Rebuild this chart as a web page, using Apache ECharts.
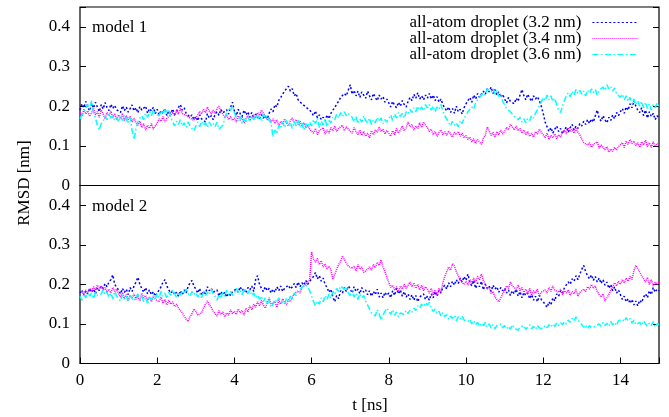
<!DOCTYPE html>
<html><head><meta charset="utf-8">
<script src="https://cdn.jsdelivr.net/npm/echarts/dist/echarts.min.js"></script>
<style>html,body{margin:0;padding:0;background:#fff}#c{width:669px;height:417px}</style>
</head><body><div id="c"></div>
<script>
// RMSD [nm] sampled every 0.05 ns from 0 to 15 ns (one row = 1 ns)
const m1_32 = [
.190,.206,.196,.212,.199,.188,.207,.195,.210,.198,.186,.204,.193,.209,.197,.189,.205,.194,.202,.191,
.196,.184,.201,.189,.198,.185,.194,.203,.188,.196,.183,.199,.190,.186,.200,.182,.194,.188,.197,.181,
.192,.178,.189,.182,.194,.176,.188,.181,.193,.179,.187,.197,.204,.190,.196,.182,.186,.172,.178,.166,
.174,.163,.178,.168,.172,.160,.181,.170,.176,.166,.179,.186,.177,.192,.183,.178,.191,.180,.196,.210,
.188,.176,.192,.181,.174,.190,.178,.186,.172,.184,.168,.180,.174,.166,.179,.170,.176,.168,.182,.193,
.186,.204,.198,.215,.222,.230,.238,.244,.250,.238,.244,.226,.232,.216,.220,.206,.210,.198,.202,.190,
.184,.176,.188,.171,.178,.166,.172,.163,.178,.168,.182,.190,.196,.206,.212,.222,.218,.232,.226,.240,
.254,.230,.240,.226,.238,.222,.236,.228,.220,.238,.226,.216,.232,.222,.214,.228,.218,.224,.210,.218,
.208,.198,.212,.202,.196,.210,.200,.214,.204,.198,.212,.222,.214,.230,.220,.234,.218,.226,.216,.228,
.220,.232,.218,.228,.214,.224,.210,.218,.204,.196,.188,.198,.184,.194,.182,.200,.186,.192,.180,.196,
.206,.214,.222,.210,.228,.218,.232,.222,.226,.238,.230,.244,.236,.248,.232,.242,.228,.236,.222,.230,
.218,.208,.222,.212,.216,.206,.220,.212,.228,.242,.226,.216,.230,.220,.212,.226,.218,.224,.214,.200,
.182,.160,.148,.136,.146,.132,.142,.150,.136,.144,.130,.140,.148,.134,.146,.154,.140,.150,.144,.156,
.150,.162,.154,.166,.156,.168,.160,.176,.190,.170,.162,.176,.166,.158,.172,.164,.178,.168,.184,.176,
.186,.194,.182,.198,.190,.206,.196,.214,.200,.190,.184,.196,.176,.190,.170,.186,.174,.182,.166,.176,
.170];
const m1_34 = [
.185,.176,.192,.180,.188,.174,.184,.194,.178,.186,.172,.190,.180,.168,.184,.176,.188,.170,.182,.166,
.178,.168,.182,.164,.176,.166,.174,.160,.170,.158,.152,.162,.146,.156,.140,.152,.144,.156,.142,.150,
.158,.168,.162,.174,.160,.170,.166,.178,.184,.176,.190,.180,.194,.182,.186,.176,.180,.170,.174,.164,
.170,.178,.186,.180,.192,.184,.198,.188,.180,.190,.182,.194,.200,.188,.180,.172,.178,.166,.174,.164,
.170,.160,.176,.164,.172,.158,.168,.176,.164,.172,.178,.170,.184,.176,.190,.182,.176,.166,.172,.160,
.168,.156,.166,.150,.162,.154,.168,.158,.150,.164,.170,.158,.166,.154,.162,.150,.158,.146,.154,.142,
.140,.132,.144,.128,.138,.134,.146,.130,.140,.132,.146,.138,.150,.136,.144,.140,.152,.138,.148,.142,
.140,.132,.146,.136,.128,.140,.126,.136,.124,.132,.120,.138,.128,.140,.134,.148,.136,.142,.130,.138,
.132,.124,.138,.128,.144,.132,.140,.150,.138,.146,.160,.148,.154,.140,.150,.144,.158,.146,.160,.152,
.146,.136,.142,.128,.136,.124,.134,.140,.128,.136,.126,.138,.130,.122,.134,.128,.136,.124,.132,.120,
.126,.116,.122,.110,.118,.106,.116,.112,.104,.120,.126,.148,.138,.126,.134,.122,.136,.128,.140,.130,
.136,.146,.140,.154,.148,.140,.150,.138,.144,.132,.140,.128,.136,.124,.132,.122,.136,.130,.142,.134,
.128,.120,.132,.116,.126,.120,.130,.118,.128,.122,.134,.140,.130,.146,.136,.142,.132,.144,.134,.128,
.116,.108,.112,.102,.108,.096,.104,.100,.110,.094,.102,.096,.090,.098,.084,.092,.086,.096,.090,.098,
.100,.108,.096,.112,.104,.116,.106,.112,.100,.108,.096,.110,.102,.114,.098,.108,.096,.110,.100,.106,
.104];
const m1_36 = [
.168,.178,.184,.196,.204,.192,.214,.186,.170,.152,.140,.156,.162,.174,.166,.180,.170,.176,.164,.172,
.160,.174,.164,.178,.168,.156,.172,.138,.116,.142,.160,.170,.176,.166,.182,.172,.186,.176,.190,.180,
.184,.176,.188,.180,.190,.182,.192,.172,.160,.150,.162,.154,.166,.150,.158,.146,.160,.150,.144,.138,
.150,.160,.148,.162,.152,.158,.146,.160,.150,.156,.148,.160,.142,.138,.152,.168,.184,.196,.190,.200,
.184,.170,.162,.174,.156,.168,.158,.172,.162,.176,.166,.178,.168,.174,.162,.180,.170,.176,.164,.158,
.122,.140,.130,.152,.144,.160,.146,.164,.150,.158,.144,.162,.150,.166,.146,.158,.140,.156,.146,.160,
.150,.166,.156,.170,.146,.162,.152,.168,.148,.164,.158,.172,.166,.180,.170,.184,.174,.186,.176,.182,
.186,.172,.160,.174,.156,.168,.160,.176,.164,.158,.170,.154,.166,.158,.172,.162,.170,.156,.166,.160,
.168,.178,.164,.180,.170,.184,.174,.182,.170,.186,.180,.192,.184,.196,.186,.200,.190,.198,.188,.204,
.196,.204,.190,.200,.186,.198,.192,.204,.188,.176,.168,.158,.150,.162,.152,.158,.148,.164,.156,.170,
.176,.186,.182,.198,.192,.210,.206,.222,.218,.234,.228,.244,.248,.236,.244,.230,.240,.224,.230,.212,
.204,.194,.198,.186,.184,.174,.178,.166,.172,.160,.168,.158,.170,.164,.176,.170,.182,.192,.200,.210,
.222,.214,.228,.216,.226,.212,.220,.204,.190,.184,.200,.214,.226,.234,.224,.238,.228,.242,.232,.240,
.230,.238,.226,.240,.232,.244,.234,.242,.228,.240,.236,.248,.240,.254,.244,.250,.238,.246,.232,.236,
.222,.230,.216,.226,.212,.222,.206,.218,.204,.214,.200,.212,.196,.210,.194,.206,.190,.204,.196,.208,
.200];
const m2_32 = [
.178,.186,.172,.184,.176,.190,.180,.188,.176,.192,.184,.196,.190,.202,.194,.206,.212,.224,.200,.192,
.186,.176,.190,.180,.188,.174,.192,.182,.196,.206,.218,.200,.190,.180,.192,.176,.186,.174,.182,.170,
.178,.186,.194,.206,.212,.196,.186,.178,.184,.174,.180,.170,.184,.174,.186,.178,.194,.204,.210,.196,
.188,.178,.190,.172,.182,.176,.194,.184,.190,.180,.176,.186,.170,.182,.174,.180,.168,.178,.172,.182,
.178,.188,.180,.194,.184,.190,.178,.192,.186,.196,.182,.212,.222,.200,.190,.182,.194,.184,.190,.178,
.188,.180,.194,.184,.196,.182,.190,.186,.198,.188,.194,.202,.192,.206,.194,.204,.198,.210,.200,.208,
.212,.220,.230,.214,.222,.208,.216,.200,.192,.180,.188,.168,.156,.172,.164,.184,.178,.192,.182,.196,
.190,.178,.194,.182,.188,.176,.192,.180,.186,.174,.184,.170,.182,.174,.188,.168,.178,.166,.180,.172,
.178,.166,.184,.172,.190,.176,.186,.170,.182,.168,.176,.162,.174,.160,.172,.156,.168,.164,.176,.162,
.170,.160,.176,.166,.182,.170,.186,.178,.192,.198,.188,.204,.194,.208,.198,.212,.202,.216,.206,.220,
.210,.226,.204,.196,.210,.190,.204,.194,.208,.186,.200,.190,.196,.182,.198,.188,.194,.180,.192,.184,
.190,.178,.186,.172,.184,.176,.188,.170,.182,.166,.180,.172,.178,.164,.174,.160,.170,.156,.172,.162,
.160,.150,.142,.156,.148,.166,.158,.176,.170,.184,.178,.192,.196,.206,.200,.214,.208,.222,.212,.226,
.238,.248,.232,.222,.214,.224,.210,.220,.206,.216,.202,.212,.198,.206,.190,.200,.184,.194,.178,.186,
.174,.162,.170,.156,.164,.152,.162,.148,.158,.146,.160,.154,.168,.176,.166,.184,.174,.192,.180,.188,
.184];
const m2_34 = [
.176,.184,.172,.186,.178,.190,.182,.194,.186,.198,.190,.196,.184,.192,.180,.188,.178,.192,.182,.188,
.176,.168,.180,.164,.174,.160,.172,.166,.176,.162,.170,.158,.178,.166,.172,.160,.168,.156,.170,.162,
.164,.156,.168,.152,.162,.148,.160,.150,.156,.144,.150,.140,.136,.128,.120,.112,.106,.118,.126,.138,
.132,.122,.118,.128,.140,.150,.158,.148,.142,.132,.128,.120,.134,.124,.130,.118,.128,.122,.136,.126,
.132,.124,.138,.128,.134,.122,.140,.130,.146,.136,.150,.142,.156,.146,.160,.148,.140,.152,.166,.150,
.146,.156,.142,.160,.150,.164,.154,.148,.162,.156,.168,.176,.172,.184,.178,.192,.188,.200,.196,.212,
.282,.264,.256,.266,.250,.260,.244,.252,.238,.246,.236,.212,.226,.238,.250,.258,.272,.262,.254,.246,
.250,.240,.246,.234,.250,.238,.244,.230,.228,.238,.244,.236,.250,.242,.256,.248,.262,.244,.232,.218,
.204,.192,.198,.186,.194,.182,.196,.188,.200,.190,.198,.206,.194,.204,.190,.200,.186,.198,.184,.194,
.188,.178,.190,.174,.186,.172,.190,.180,.204,.220,.232,.244,.236,.252,.246,.232,.222,.210,.214,.200,
.208,.198,.212,.202,.216,.206,.220,.212,.226,.210,.200,.188,.194,.176,.182,.168,.172,.156,.166,.176,
.184,.196,.190,.206,.196,.200,.188,.198,.184,.192,.180,.188,.176,.190,.172,.184,.178,.188,.170,.180,
.176,.186,.178,.192,.182,.196,.186,.190,.180,.188,.174,.184,.178,.186,.172,.182,.176,.188,.170,.180,
.178,.188,.182,.194,.188,.200,.190,.196,.182,.174,.168,.176,.158,.166,.174,.186,.194,.204,.196,.208,
.200,.212,.204,.216,.208,.220,.212,.234,.248,.240,.236,.222,.214,.206,.218,.200,.212,.196,.206,.200,
.208];
const m2_36 = [
.170,.160,.176,.166,.182,.170,.178,.164,.180,.172,.168,.176,.186,.174,.180,.168,.178,.164,.182,.170,
.168,.158,.174,.162,.170,.156,.172,.164,.158,.168,.176,.162,.170,.156,.166,.152,.170,.160,.174,.164,
.176,.166,.182,.170,.178,.164,.180,.172,.186,.176,.168,.180,.172,.184,.176,.188,.178,.170,.182,.174,
.180,.168,.178,.166,.184,.172,.180,.174,.188,.176,.170,.160,.174,.164,.180,.170,.186,.174,.182,.172,
.178,.190,.180,.186,.174,.190,.182,.176,.186,.172,.178,.166,.174,.162,.170,.156,.166,.150,.160,.142,
.150,.162,.154,.166,.158,.162,.150,.166,.156,.170,.162,.178,.172,.184,.180,.192,.188,.200,.192,.184,
.170,.156,.146,.158,.150,.166,.156,.172,.162,.176,.166,.182,.174,.190,.182,.196,.200,.188,.194,.178,
.172,.184,.168,.178,.162,.176,.166,.172,.158,.148,.138,.128,.132,.120,.136,.126,.110,.122,.132,.140,
.132,.124,.136,.122,.130,.118,.128,.132,.124,.134,.126,.136,.130,.140,.134,.146,.140,.150,.144,.154,
.148,.154,.140,.132,.138,.126,.132,.120,.128,.118,.124,.112,.120,.114,.122,.108,.118,.112,.120,.110,
.114,.106,.112,.100,.108,.098,.104,.094,.102,.096,.104,.092,.100,.090,.098,.088,.096,.092,.100,.090,
.096,.088,.094,.086,.098,.090,.094,.084,.092,.088,.096,.086,.092,.098,.088,.094,.086,.096,.090,.094,
.088,.096,.090,.098,.092,.100,.094,.102,.096,.104,.098,.106,.100,.110,.104,.114,.108,.118,.110,.104,
.100,.092,.098,.088,.096,.090,.086,.094,.092,.100,.094,.104,.096,.102,.094,.106,.098,.104,.096,.108,
.104,.112,.106,.116,.108,.114,.102,.110,.098,.094,.104,.096,.108,.100,.094,.102,.096,.106,.092,.100,
.098];
const seriesNames = ['all-atom droplet (3.2 nm)','all-atom droplet (3.4 nm)','all-atom droplet (3.6 nm)'];
const panelLabels = ['model 1','model 2'];
const xLabel = 't [ns]';
const yLabel = 'RMSD [nm]';
const timeStep = 0.05; // ns between samples

const FONT = 'Liberation Serif';
const colors = ['#0000ff','#ff00ff','#00ffff'];
const dashes = [[2,2.2],[1,1],[6,2.5,1.5,2.5]];
const pair = arr => arr.map((v, i) => [+(i * timeStep).toFixed(2), v]);

const yFmt = v => (v > 0.41 ? '' : String(+v.toFixed(2)));
const xFmt = v => (v > 14.5 ? '' : String(v));

const grids = [
  {left: 80, top: 7, width: 579, height: 178.5},
  {left: 80, top: 185.5, width: 579, height: 178}
].map(g => Object.assign(g, {show: true, borderColor: '#000', borderWidth: 1.2, backgroundColor: 'transparent', containLabel: false}));

const xAxes = [0, 1].map(i => ({
  type: 'value', gridIndex: i, min: 0, max: 15, interval: 2,
  axisLine: {show: false}, splitLine: {show: false},
  axisTick: {show: i === 1, inside: true, length: 6, lineStyle: {color: '#000'}},
  axisLabel: {show: i === 1, fontFamily: FONT, fontSize: 17, color: '#000', margin: 9, formatter: xFmt}
}));
const yAxes = [];
[0, 1].forEach(i => {
  ['left', 'right'].forEach(pos => {
    yAxes.push({
      type: 'value', gridIndex: i, position: pos, min: 0, max: 0.45, interval: 0.1,
      axisLine: {show: false}, splitLine: {show: false},
      axisTick: {show: true, inside: true, length: 6, lineStyle: {color: '#000'}},
      axisLabel: {show: pos === 'left', fontFamily: FONT, fontSize: 17, color: '#000', margin: 10, formatter: yFmt}
    });
  });
});

const panels = [[m1_32, m1_34, m1_36], [m2_32, m2_34, m2_36]];
const series = [];
panels.forEach((sets, p) => {
  sets.forEach((vals, k) => {
    series.push({
      type: 'line', name: seriesNames[k], xAxisIndex: p, yAxisIndex: p * 2,
      data: pair(vals), symbol: 'none', showSymbol: false, z: 2 + k,
      itemStyle: {color: colors[k]},
      lineStyle: {color: colors[k], width: 1.5, type: dashes[k]},
      animation: false
    });
  });
});

const chart = echarts.init(document.getElementById('c'), null, {renderer: 'canvas'});
chart.setOption({
  backgroundColor: '#fff',
  animation: false,
  grid: grids, xAxis: xAxes, yAxis: yAxes, series,
  legend: {
    data: seriesNames, orient: 'vertical', right: 31, top: 14, align: 'right', padding: 0,
    itemWidth: 45, itemHeight: 12, itemGap: -1,
    itemStyle: {opacity: 0, color: 'transparent', borderWidth: 0},
    lineStyle: {width: 1.2},
    textStyle: {fontFamily: FONT, fontSize: 17, color: '#000', padding: [0, 6, 0, 0]},
    selectedMode: false
  },
  graphic: [
    {type: 'text', left: 92, top: 19, style: {text: panelLabels[0], font: '17px "Liberation Serif"', fill: '#000'}},
    {type: 'text', left: 92, top: 198, style: {text: panelLabels[1], font: '17px "Liberation Serif"', fill: '#000'}},
    {type: 'text', x: 370, y: 406, style: {text: xLabel, font: '17px "Liberation Serif"', fill: '#000', align: 'center', verticalAlign: 'middle'}},
    {type: 'text', x: 25, y: 183, rotation: Math.PI / 2, style: {text: yLabel, font: '17px "Liberation Serif"', fill: '#000', align: 'center', verticalAlign: 'middle'}}
  ]
});
</script></body></html>
